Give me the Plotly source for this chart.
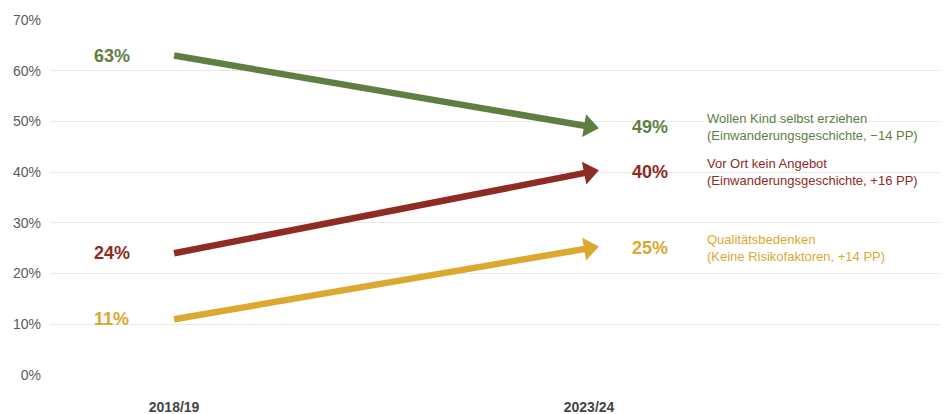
import plotly.graph_objects as go

periods = ["2018/19", "2023/24"]
x_pos = [0, 1]
series_names = ["Wollen Kind selbst erziehen", "Vor Ort kein Angebot", "Qualitätsbedenken"]
series_notes = ["(Einwanderungsgeschichte, \u221214 PP)", "(Einwanderungsgeschichte, +16 PP)", "(Keine Risikofaktoren, +14 PP)"]
start_values = [63, 24, 11]
end_values = [49, 40, 25]
colors = ["#5e7f41", "#8e2b22", "#dca830"]
y_ticks = [0, 10, 20, 30, 40, 50, 60, 70]

fig = go.Figure()
for name, s, e, c in zip(series_names, start_values, end_values, colors):
    fig.add_trace(go.Scatter(
        x=x_pos, y=[s, e], mode="lines+markers", name=name,
        line=dict(color=c, width=6.5),
        marker=dict(symbol="triangle-up", size=[0, 20], color=c, opacity=1,
                    line=dict(width=0), angleref="previous"),
        showlegend=False, hoverinfo="skip",
    ))

annotations = []
for name, note, s, e, c in zip(series_names, series_notes, start_values, end_values, colors):
    annotations.append(dict(x=-0.15, y=s, xref="x", yref="y", text=f"<b>{s}%</b>",
                            showarrow=False, font=dict(size=18, color=c), xanchor="center"))
    annotations.append(dict(x=1.147, y=e, xref="x", yref="y", text=f"<b>{e}%</b>",
                            showarrow=False, font=dict(size=18, color=c), xanchor="center"))
    annotations.append(dict(x=1.28, y=e, xref="x", yref="y", text=f"{name}<br>{note}",
                            showarrow=False, font=dict(size=13, color=c), xanchor="left",
                            align="left", yanchor="middle"))

fig.update_layout(
    width=940, height=406,
    margin=dict(l=42, r=0, t=12, b=39),
    paper_bgcolor="white", plot_bgcolor="white",
    font=dict(family="Liberation Sans, Arial, sans-serif", color="#555555"),
    annotations=annotations,
    xaxis=dict(range=[-0.299, 1.865], tickvals=x_pos, ticktext=[f"<b>{p}</b>" for p in periods],
               showgrid=False, zeroline=False, showline=False, ticks="",
               tickfont=dict(size=14, color="#444444"), ticklabelstandoff=22),
    yaxis=dict(range=[0, 70], tickvals=y_ticks, ticktext=[f"{v}%" for v in y_ticks],
               showgrid=True, gridcolor="#e8e8e8", gridwidth=1, zeroline=False,
               showline=False, ticks="", tickfont=dict(size=14, color="#5a5a5a"),
               ticklabelstandoff=8),
)
fig.write_html("out.html")
